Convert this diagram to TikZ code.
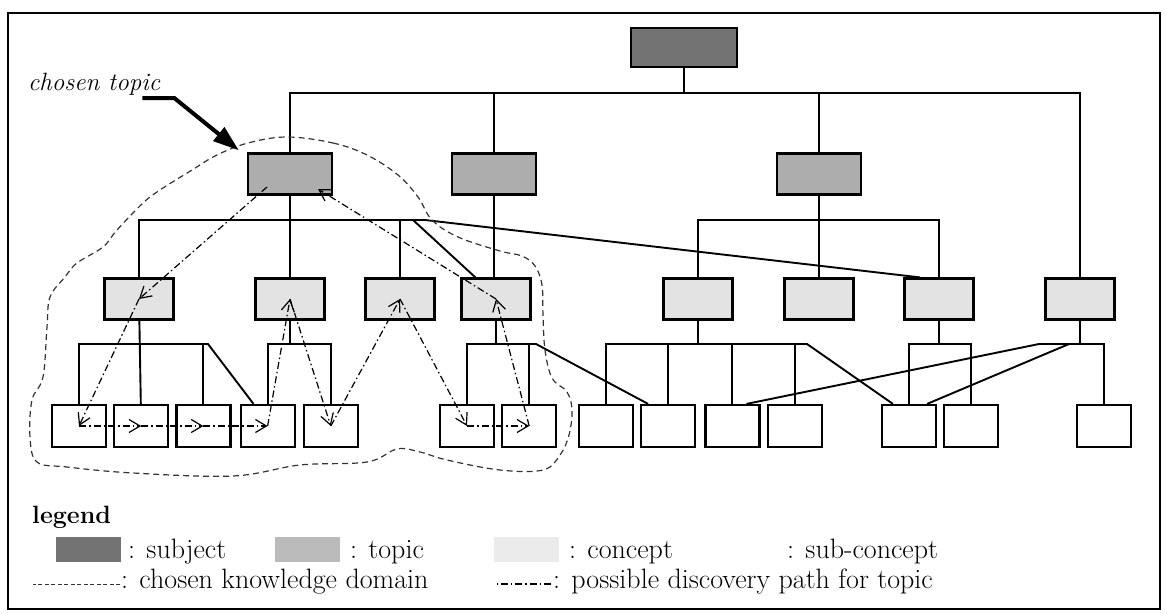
\documentclass[tikz,border=0pt]{standalone}
\usepackage{tikz}
\usetikzlibrary{arrows.meta, positioning, calc}
\usepackage{xcolor}
\definecolor{subjgray}{gray}{0.45}
\definecolor{topicgray}{gray}{0.68}
\definecolor{conceptgray}{gray}{0.89}

\begin{document}
\begin{tikzpicture}[
    x=1pt, y=-1pt,
    node distance=6pt,
    plainbox/.style={draw, line width=2.2pt, inner sep=0pt},
    subjbox/.style={plainbox, fill=subjgray, minimum width=106pt, minimum height=39pt},
    topicbox/.style={plainbox, fill=topicgray, minimum width=84pt, minimum height=41pt},
    conceptbox/.style={plainbox, fill=conceptgray, minimum width=69pt, minimum height=41pt},
    subbox/.style={plainbox, fill=white, minimum width=54pt, minimum height=42pt},
    swatch/.style={inner sep=0pt, anchor=north west, minimum width=65pt, minimum height=25pt},
    link/.style={line width=1.9pt},
    kdomain/.style={line width=1.2pt, black!80, dash pattern=on 6pt off 4pt},
    discover/.style={line width=1.2pt, dash pattern=on 7pt off 3pt on 1.5pt off 3pt},
    discoverarrow/.style={discover, -{Straight Barb[length=11pt,width=13pt]}},
    pointer/.style={line width=4pt, -{Triangle[length=26pt,width=17pt]}},
    legendtext/.style={anchor=base west, inner sep=0pt, font=\fontsize{28}{34}\selectfont}
]
\useasboundingbox (0,0) rectangle (1167,613);

% Frame
\draw[line width=2pt] (8,13) rectangle (1160,609);

% Buses
\coordinate (topbus) at (0,93);
\coordinate (tbus) at (0,220);
\coordinate (cbus) at (0,344);

% Subject and topics
\node[subjbox] (subj) at (684,47.5) {};
\node[topicbox] (t1) at (290,174) {};
\node[topicbox] (t2) at (494,174) {};
\node[topicbox] (t3) at (819,174) {};

% Concepts
\node[conceptbox] (c1) at (139,299) {};
\node[conceptbox] (c2) at (290,299) {};
\node[conceptbox] (c3) at (400,299) {};
\node[conceptbox] (c4) at (496,299) {};
\node[conceptbox] (c5) at (698,299) {};
\node[conceptbox] (c6) at (819,299) {};
\node[conceptbox] (c7) at (939,299) {};
\node[conceptbox] (c8) at (1080,299) {};

% Sub-concepts
\node[subbox] (s1) at (79,426) {};
\node[subbox, right=6pt of s1] (s2) {};
\node[subbox, right=6pt of s2] (s3) {};
\node[subbox, right=8pt of s3] (s4) {};
\node[subbox, right=7pt of s4] (s5) {};
\node[subbox] (s6) at (467,426) {};
\node[subbox, right=6pt of s6] (s7) {};
\node[subbox] (s8) at (606,426) {};
\node[subbox, right=6pt of s8] (s9) {};
\node[subbox, right=8pt of s9] (s10) {};
\node[subbox, right=6pt of s10] (s11) {};
\node[subbox] (s12) at (909,426) {};
\node[subbox, right=6pt of s12] (s13) {};
\node[subbox] (s14) at (1104,426) {};

% Tree lines
\draw[link] (subj) -- (subj |- topbus);
\draw[link] (t1) -- (t1 |- topbus) -- (c8 |- topbus) -- (c8);
\draw[link] (t2) -- (t2 |- topbus);
\draw[link] (t3) -- (t3 |- topbus);

\coordinate (t1fork) at (413,220);
\coordinate (t1bend) at (425,220);
\draw[link] (c1) -- (c1 |- tbus) -- (t1bend) -- ([xshift=-19pt]c7.north);
\draw[link] (t1) -- (c2);
\draw[link] (c3) -- (c3 |- tbus);
\draw[link] (t1fork) -- ([xshift=15pt]c4.north west);
\draw[link] (t2) -- (t2 |- c4.north);
\draw[link] (t3) -- (c6);
\draw[link] (c5) -- (c5 |- tbus) -- (c7 |- tbus) -- (c7);

\coordinate (c1bend) at (208,344);
\draw[link] (s1) -- (s1 |- cbus) -- (c1bend) -- ([xshift=14pt]s4.north west);
\draw[link] (c1) -- (s2);
\draw[link] (s3) -- (s3 |- cbus);
\draw[link] (s4) -- (s4 |- cbus) -- (s5 |- cbus) -- (s5);
\draw[link] (c2) -- (c2 |- cbus);

\coordinate (c4bend) at (536,344);
\draw[link] (s6) -- (s6 |- cbus) -- (c4bend) -- ([xshift=8pt]s9.north west);
\draw[link] (c4) -- (c4 |- cbus);
\draw[link] (s7) -- (s7 |- cbus);

\coordinate (c5bend) at (807,344);
\draw[link] (s8) -- (s8 |- cbus) -- (c5bend) -- ([xshift=12pt]s12.north west);
\draw[link] (c5) -- (c5 |- cbus);
\draw[link] (s9) -- (s9 |- cbus);
\draw[link] (s10) -- (s10 |- cbus);
\draw[link] (s11) -- (s11 |- cbus);

\draw[link] (s12) -- (s12 |- cbus) -- (s13 |- cbus) -- (s13);
\draw[link] (c7) -- (c7 |- cbus);

\coordinate (c8left) at (1039,344);
\coordinate (c8mid) at (1069,344);
\draw[link] (c8left) -- (s14 |- cbus) -- (s14);
\draw[link] (c8) -- (c8 |- cbus);
\draw[link] (c8left) -- ([xshift=-14pt]s10.north east);
\draw[link] (c8mid) -- ([xshift=-10pt]s12.north east);

% Chosen knowledge domain
\draw[kdomain] plot[smooth cycle, tension=0.6] coordinates {
    (287,137) (333,143) (367,155) (398,175) (418,197) (432,220) (458,237)
    (500,251) (522,256) (535,266) (542,285) (543,315) (545,350) (552,378)
    (567,392) (572,410) (569,435) (560,455) (543,470) (500,470) (447,460)
    (420,452) (397,449) (367,462) (300,465) (233,476) (133,473) (67,467)
    (37,462) (30,437) (32,400) (43,377) (47,327) (50,297) (65,277) (77,263)
    (103,247) (117,230) (143,203) (160,190) (192,170) (217,155) (248,143)};

% Discovery path
\draw[discoverarrow] ([xshift=-23pt,yshift=-13pt]t1.center) -- (c1.center);
\draw[discoverarrow] (c1.center) -- (s1.center);
\draw[discoverarrow] (s1.center) -- (s2.center);
\draw[discoverarrow] (s2.center) -- (s3.center);
\draw[discoverarrow] (s3.center) -- (s4.center);
\draw[discoverarrow] (s4.center) -- (c2.center);
\draw[discoverarrow] (c2.center) -- (s5.center);
\draw[discoverarrow] (s5.center) -- (c3.center);
\draw[discoverarrow] (c3.center) -- (s6.center);
\draw[discoverarrow] (s6.center) -- (s7.center);
\draw[discoverarrow] (s7.center) -- (c4.center);
\draw[discoverarrow] (c4.center) -- ([xshift=28pt,yshift=-15pt]t1.center);

% Chosen topic
\node[anchor=base west, inner sep=0pt, font=\fontsize{25}{30}\selectfont\itshape] (chosen) at (28,90) {chosen topic};
\draw[pointer] ([xshift=-18pt,yshift=-8pt]chosen.base east) -- ++(32,0) -- ([xshift=-8pt,yshift=2pt]t1.north west);

% Legend
\node[legendtext, font=\fontsize{25}{30}\selectfont\bfseries] (legend) at (32,523) {legend};
\node[swatch, fill=subjgray] (swsubj) at (56,537) {};
\node[legendtext] (lsubj) at (128,558) {: subject};
\node[swatch, fill=topicgray!85] (swtopic) at (275,537) {};
\node[legendtext] (ltopic) at (350,558) {: topic};
\node[swatch, fill=conceptgray!70] (swconcept) at (494,537) {};
\node[legendtext] (lconcept) at (569,558) {: concept};
\node[legendtext] (lsub) at (787,558) {: sub-concept};
\node[legendtext] (ldomain) at (121,588) {: chosen knowledge domain};
\draw[kdomain, line width=1pt, dash pattern=on 4pt off 2.5pt] ([xshift=-1pt,yshift=4pt]ldomain.base west) -- ++(-87,0);
\node[legendtext] (lpath) at (553,588) {: possible discovery path for topic};
\draw[discover, line width=1.6pt] ([xshift=-2pt,yshift=4pt]lpath.base west) -- ++(-54,0);

\end{tikzpicture}
\end{document}
